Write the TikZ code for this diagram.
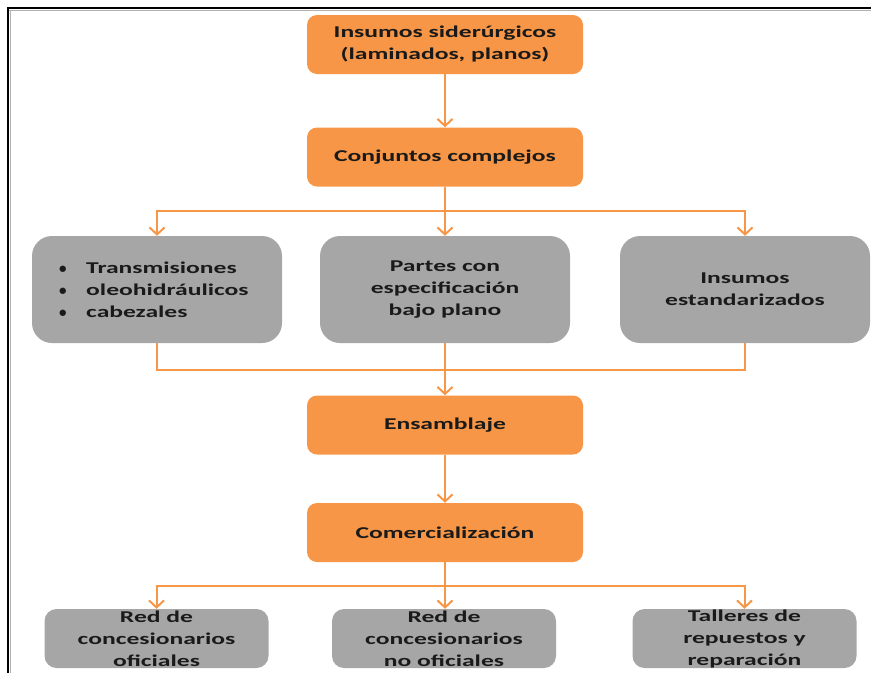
\documentclass[tikz,border=0pt]{standalone}
\usepackage{fontspec}
\setmainfont{Carlito}[FakeStretch=1.55]
\newfontfamily\bulletfont{Carlito}
\usetikzlibrary{arrows.meta}
\definecolor{orng}{HTML}{F79646}
\definecolor{grayfill}{HTML}{A6A6A6}
\definecolor{txt}{HTML}{1A1A1A}
\newcommand{\bul}{\makebox[29pt][l]{\hspace{2pt}{\bulletfont\fontsize{15}{22}\selectfont •}}}
\begin{document}
\begin{tikzpicture}[x=1pt,y=-1pt,
  basefont/.style={font=\fontsize{16.5}{22}\selectfont\bfseries, text=txt, align=center, inner sep=0pt},
  obox/.style={basefont, fill=orng, rounded corners=10pt, minimum width=276pt, minimum height=59pt},
  gbox/.style={basefont, fill=grayfill, rounded corners=20pt, minimum width=250pt, minimum height=107pt},
  bbox/.style={basefont, fill=grayfill, rounded corners=12pt, minimum width=224pt, minimum height=59pt},
  conn/.style={draw=orng, line width=2pt},
  arr/.style={conn, -{Straight Barb[length=7pt,width=15pt,line width=2pt]}},
]
\useasboundingbox (0,0) rectangle (871,673);
% frame
\draw[gray!60, line width=1pt] (9,10.8) -- (871,10.8);
\draw[gray!60, line width=1pt] (10.8,10) -- (10.8,673);
\draw[black, line width=2.5pt] (7,8) -- (871,8);
\draw[black, line width=2.5pt] (8,7) -- (8,673);

% orange boxes
\node[obox] (ins) at (445,44.5) {Insumos siderúrgicos\\(laminados, planos)};
\node[obox] (conj) at (445,157) {Conjuntos complejos};
\node[obox] (ens) at (445,425) {Ensamblaje};
\node[obox] (com) at (445,532.5) {Comercialización};

% gray boxes
\node[gbox] (g1) at (157,289.5) {};
\node[basefont, anchor=west, align=left] (g1t) at (57,289.5) {%
  \bul Transmisiones\\
  \bul oleohidráulicos\\
  \bul cabezales};
\node[gbox] (g2) at (445,289.5) {Partes con\\especificación\\bajo plano};
\node[gbox] (g3) at (745,289.5) {Insumos\\estandarizados};

% bottom boxes
\node[bbox] (r1) at (156.5,638.5) {Red de\\concesionarios\\oficiales};
\node[bbox] (r2) at (444,638.5) {Red de\\concesionarios\\no oficiales};
\node[bbox] (r3) at (744.5,638.5) {Talleres de\\repuestos y\\reparación};

% connectors
\coordinate (s1) at (445,211);
\coordinate (m1) at (445,370);
\coordinate (s2) at (445,586);

\draw[arr] (ins) -- (conj);
\draw[arr] (conj) -- (g2);
\draw[arr] (s1) -| (g1);
\draw[arr] (s1) -| (g3);

\draw[conn] (g1) |- (m1);
\draw[conn] (g3) |- (m1);
\draw[arr] (g2) -- (ens);

\draw[arr] (ens) -- (com);
\draw[arr] (com.south) -- (com.south |- r2.north);
\draw[arr] (s2) -| (r1);
\draw[arr] (s2) -| (r3);
\end{tikzpicture}
\end{document}
